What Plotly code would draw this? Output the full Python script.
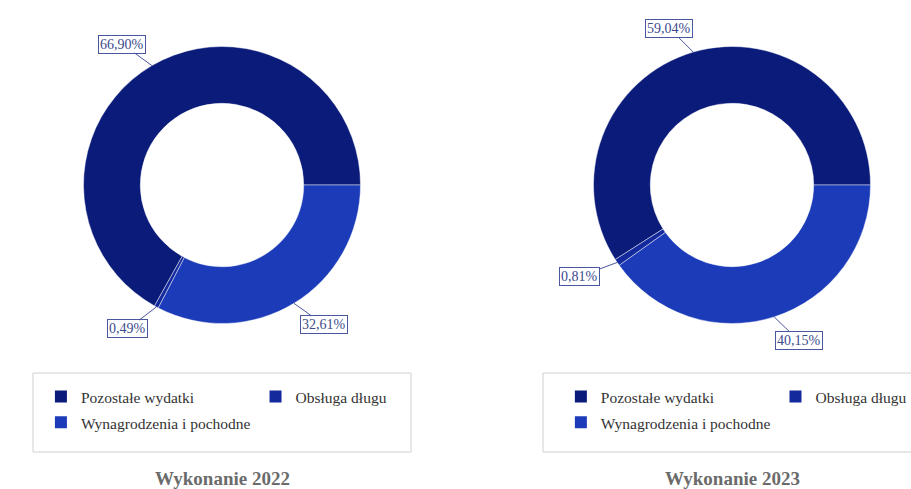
import numpy as np
import plotly.graph_objects as go

#######################################
# DATA
labels     = ['Pozostałe wydatki', 'Obsługa długu', 'Wynagrodzenia i pochodne']
vals_2022  = [66.90, 0.49, 32.61]
vals_2023  = [59.04, 0.81, 40.15]
titles     = ['Wykonanie 2022', 'Wykonanie 2023']
colors     = ['#0b1b7a', '#13299c', '#1b3bb8']
#######################################

W, H   = 911, 489
ml, mr = 41, 0
pw     = W - ml - mr
rad    = 138.5
centers = [(222, 185), (732, 185)]
boxes   = [(33, 411), (543, 921)]       # legend frames, px
box_y   = (373, 452)

def fmt(v):
    return ('%.2f' % v).replace('.', ',') + '%'

def px_x(p):
    return (p - ml) / pw

def px_y(p):
    return 1 - p / H

fig = go.Figure()
annots = []
shapes = []

for k, (vals, (cx, cy)) in enumerate(zip([vals_2022, vals_2023], centers)):
    share = np.array(vals) / np.sum(vals)

    # first slice runs counterclockwise from 3 o'clock
    fig.add_trace(go.Pie(
        labels = labels,
        values = vals,
        hole = 0.59,
        sort = False,
        direction = 'counterclockwise',
        rotation = 90 - 360 * share[0],
        textinfo = 'none',
        marker = dict(colors = colors, line = dict(color = 'rgba(255,255,255,0.45)', width = 1)),
        domain = dict(x = [px_x(cx - rad), px_x(cx + rad)], y = [px_y(cy + rad), px_y(cy - rad)]),
        showlegend = False,
        hovertemplate = '%{label}: %{value:.2f}%<extra></extra>'
    ))

    # one legend per donut (pie slices only go to the first legend)
    for lab, col in zip(labels, colors):
        fig.add_trace(go.Scatter(
            x = [None], y = [None], mode = 'markers',
            name = '<span style="font-size:15.5px">' + lab + '</span>',
            marker = dict(symbol = 'square', size = 12, color = col),
            legend = 'legend' if k == 0 else 'legend2',
            hoverinfo = 'skip'
        ))

    shapes.append(dict(
        type = 'rect', xref = 'paper', yref = 'paper', layer = 'below',
        x0 = px_x(boxes[k][0]), x1 = px_x(boxes[k][1]),
        y0 = px_y(box_y[1]), y1 = px_y(box_y[0]),
        line = dict(color = '#d0d0d0', width = 1), fillcolor = 'white'
    ))

    # labels with leader lines, at the middle of each slice
    cum = np.cumsum(share) - share / 2
    for v, c in zip(vals, cum):
        th = np.deg2rad(360 * c)
        tx = cx + rad * np.cos(th)
        ty = cy - rad * np.sin(th)
        annots.append(dict(
            x = px_x(tx), y = px_y(ty),
            xref = 'paper', yref = 'paper',
            text = fmt(v),
            showarrow = True, arrowhead = 0, arrowwidth = 1,
            arrowcolor = '#4a56a0', standoff = 0,
            ax = 25 * np.cos(th) + np.sign(np.cos(th)) * 17,
            ay = -25 * np.sin(th),
            font = dict(family = 'Liberation Serif', size = 14, color = '#3c4a8e'),
            bgcolor = 'white', bordercolor = '#4a56a0', borderwidth = 1, borderpad = 1
        ))

    annots.append(dict(
        x = px_x(cx), y = px_y(478),
        xref = 'paper', yref = 'paper',
        xanchor = 'center', yanchor = 'middle',
        text = '<b>' + titles[k] + '</b>',
        showarrow = False,
        font = dict(family = 'Liberation Serif', size = 19, color = '#6b6b6b')
    ))

leg = dict(
    orientation = 'h',
    yanchor = 'top', y = px_y(378.6),
    bgcolor = 'rgba(0,0,0,0)',
    borderwidth = 0,
    font = dict(family = 'Liberation Serif', size = 17.5, color = '#333333')
)

fig.update_layout(
    width = W,
    height = H,
    margin = dict(l = ml, r = mr, t = 0, b = 0, autoexpand = False),
    paper_bgcolor = 'white',
    plot_bgcolor = 'white',
    showlegend = True,
    xaxis = dict(visible = False),
    yaxis = dict(visible = False),
    legend = dict(leg, x = -0.0001, xanchor = 'left'),
    legend2 = dict(leg, x = 1.001, xanchor = 'right'),
    shapes = shapes,
    annotations = annots
)

fig.write_html("out.html", config = {'displayModeBar': False},
               post_script = "document.body.style.margin = '0';")
